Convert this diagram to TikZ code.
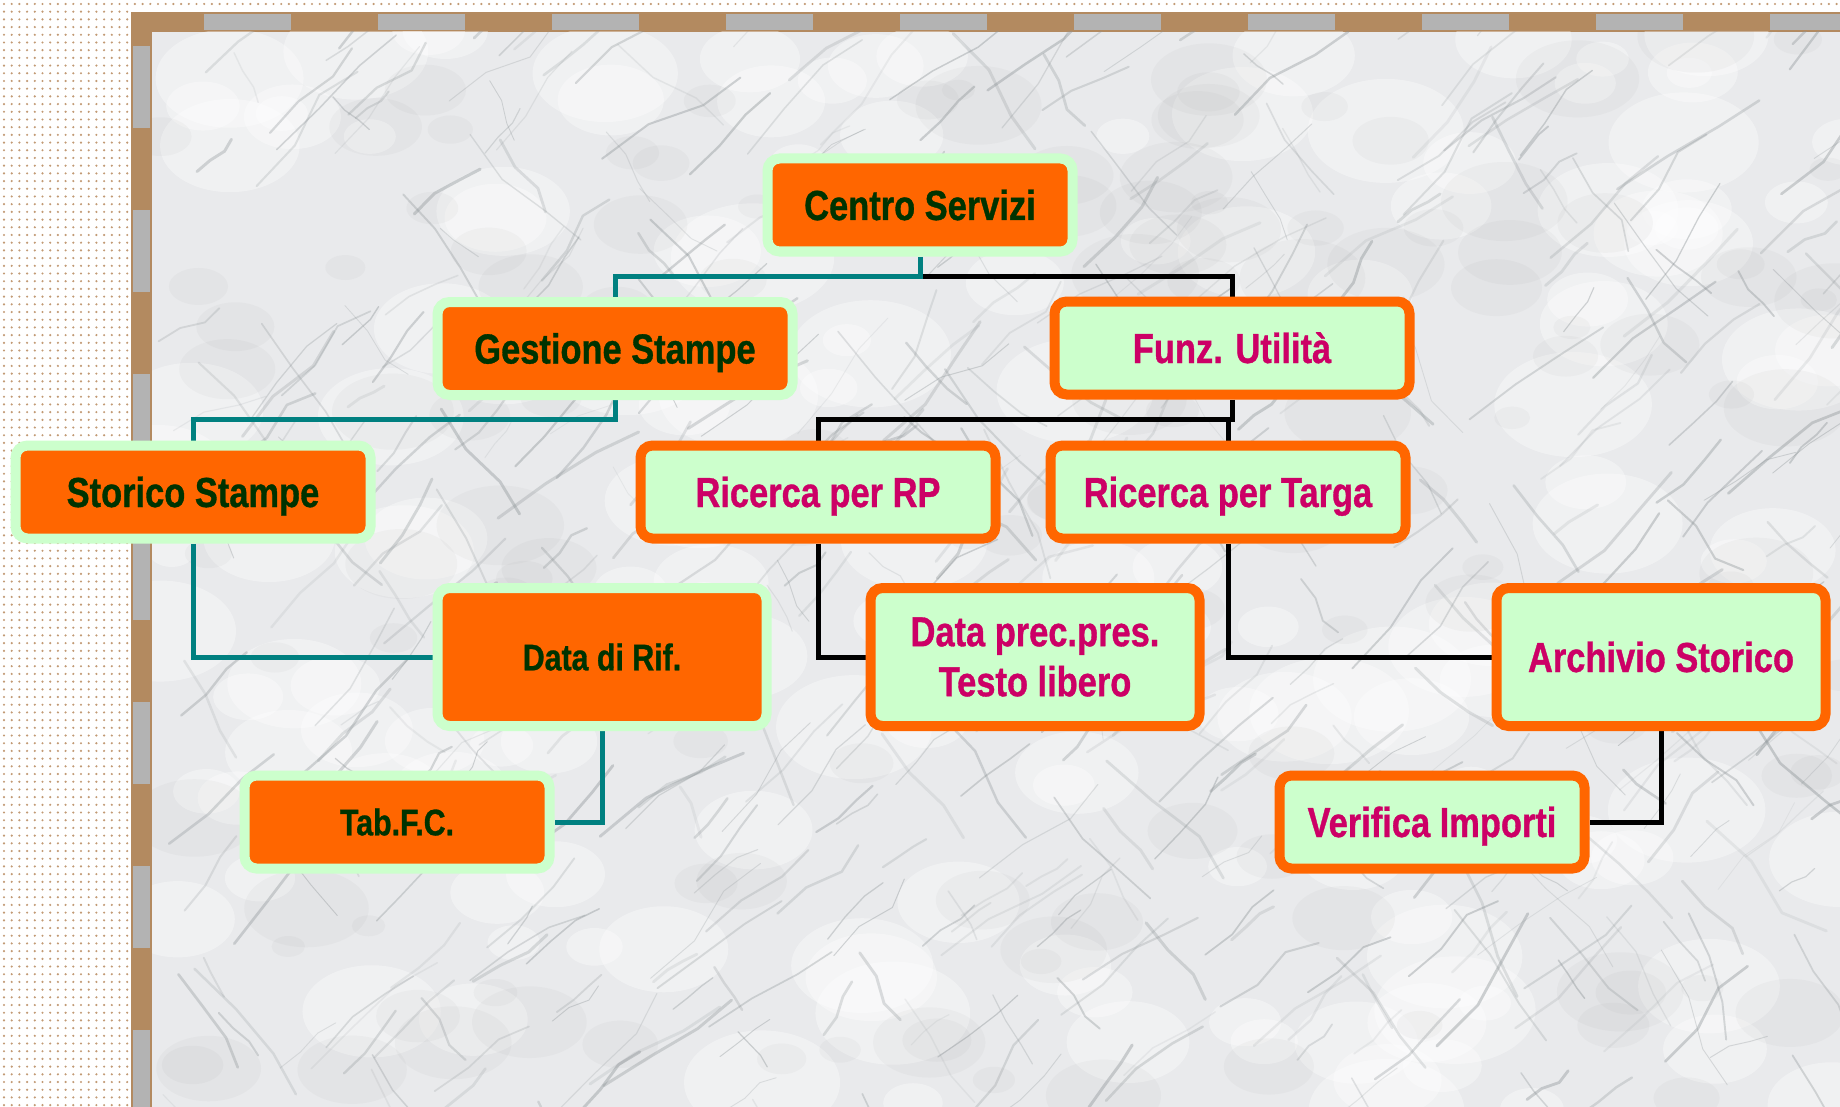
\documentclass[tikz,border=0pt]{standalone}
\usepackage{fontspec}
\newfontfamily\narrow[FakeStretch=0.82, BoldFeatures={FakeBold=0.8}]{Liberation Sans}
\usetikzlibrary{backgrounds}
\pgfdeclarelayer{back}
\pgfsetlayers{back,background,main}
\definecolor{orng}{HTML}{FF6600}
\definecolor{lgreen}{HTML}{CCFFCC}
\definecolor{dgreen}{HTML}{003300}
\definecolor{magn}{HTML}{CC0066}
\definecolor{tealc}{HTML}{008080}
\definecolor{frametan}{HTML}{B38A60}
\definecolor{framegray}{HTML}{B3B3B3}
\definecolor{marble}{HTML}{E9EAEC}
\definecolor{vein}{HTML}{8E9598}
\definecolor{dotc}{HTML}{C29A74}
\tikzset{
  boxbase/.style={line width=5pt, rounded corners=6pt, inner sep=0pt, align=center,
    font=\narrow\bfseries\fontsize{21}{25}\selectfont},
  boxA/.style={boxbase, draw=lgreen, fill=orng, text=dgreen},
  boxB/.style={boxbase, draw=orng, fill=lgreen, text=magn},
  one/.style={text height=15pt, text depth=0pt},
  onesmall/.style={text height=13.3pt, text depth=0pt},
  sm/.style={minimum width=152.5pt, minimum height=46.5pt},
  wd/.style={minimum width=177.5pt, minimum height=46.5pt},
  tl/.style={minimum width=164.5pt, minimum height=69pt},
  smallfont/.style={font=\narrow\bfseries\fontsize{18.5}{22}\selectfont},
  tline/.style={draw=tealc, line width=2.5pt},
  bline/.style={draw=black, line width=2.5pt},
  veinline/.style={draw=vein, line cap=round, line join=round}
}
\begin{document}
\begin{tikzpicture}[x=0.5pt,y=-0.5pt]
\useasboundingbox (0,0) rectangle (1840,1107);
\begin{pgfonlayer}{back}
  % dotted paper
  \fill[white] (0,0) rectangle (1840,1107);
  \foreach \yy in {0,...,143}{
    \foreach \xx in {0,...,16}{
      \fill[dotc] ({4+\xx*7.7},{4+\yy*7.7}) circle (1.2);
    }
  }
  \foreach \xx in {17,...,238}{
    \fill[dotc] ({4+\xx*7.7},4) circle (1.2);
  }
  % frame
  \fill[frametan] (131,12) rectangle (1840,1107);
  \foreach \k in {0,...,9}{
    \fill[framegray] ({204+\k*174},14) rectangle ({291+\k*174},30);
  }
  \foreach \k in {0,...,6}{
    \fill[framegray] (133,{46+\k*164}) rectangle (150,{128+\k*164});
  }
  % marble
  \fill[marble] (152,32) rectangle (1840,1107);
  \begin{scope}
    \clip (152,32) rectangle (1840,1107);
    \pgfmathsetseed{4242}
    \foreach \i in {1,...,160}{
      \pgfmathsetmacro\xa{150+rnd*1700}
      \pgfmathsetmacro\ya{30+rnd*1090}
      \pgfmathsetmacro\rr{15+rnd*40}
      \fill[white, opacity=0.35] (\xa,\ya) ellipse ({\rr*1.5} and \rr);
    }
    \foreach \i in {1,...,140}{
      \pgfmathsetmacro\xa{150+rnd*1700}
      \pgfmathsetmacro\ya{30+rnd*1090}
      \pgfmathsetmacro\rr{10+rnd*30}
      \fill[gray, opacity=0.05] (\xa,\ya) ellipse ({\rr*1.6} and \rr);
    }
    \foreach \i in {1,...,520}{
      \pgfmathsetmacro\xa{150+rnd*1700}
      \pgfmathsetmacro\ya{30+rnd*1090}
      \pgfmathsetmacro\len{15+rnd*45}
      \pgfmathsetmacro\ang{ifthenelse(rnd<0.7, 30+rnd*25, -40-rnd*25)}
      \pgfmathsetmacro\lw{0.4+rnd*1.1}
      \pgfmathsetmacro\op{0.12+rnd*0.3}
      \pgfmathsetmacro\da{rand*20}
      \pgfmathsetmacro\db{rand*20}
      \draw[veinline, line width=\lw pt, opacity=\op] (\xa,\ya)
        -- ++({\len*cos(\ang)},{-\len*sin(\ang)})
        -- ++({\len*cos(\ang+\da)},{-\len*sin(\ang+\da)})
        -- ++({0.8*\len*cos(\ang+\db)},{-0.8*\len*sin(\ang+\db)});
    }
  \end{scope}
\end{pgfonlayer}

% nodes
\node[boxA, sm, one] (centro) at (920,205) {Centro Servizi};
\node[boxA, wd, one] (gest) at (615,348.5) {Gestione Stampe};
\node[boxB, wd, one] (funz) at (1232,348) {Funz. Utilità};
\node[boxA, wd, one] (stor) at (193,492) {Storico Stampe};
\node[boxB, wd, one] (rp) at (818,492) {Ricerca per RP};
\node[boxB, wd, one] (targa) at (1228,492) {Ricerca per Targa};
\node[boxA, tl, smallfont, onesmall] (rif) at (602,657) {Data di Rif.};
\node[boxB, tl] (prec) at (1035,657) {Data prec.pres.\\Testo libero};
\node[boxB, tl, one] (arch) at (1661,657) {Archivio Storico};
\node[boxA, sm, smallfont, onesmall] (tab) at (397,822) {Tab.F.C.};
\node[boxB, sm, one] (verif) at (1432,822) {Verifica Importi};

\coordinate (j1) at (920,276);
\coordinate (j2) at (615,419);
\coordinate (j3) at (1232,419);

\begin{pgfonlayer}{background}
  \draw[bline] (j1) -| (funz.north);
  \draw[tline] (centro.south) -- (j1) -| (gest.north);
  \draw[tline] (gest.south) -- (j2) -| (stor.north);
  \draw[bline] (funz.south) -- (j3) -| (rp.north);
  \draw[bline] (j3) -| (targa.north);
  \draw[tline] (stor.south) |- (rif.west);
  \draw[tline] (rif.south) |- (tab.east);
  \draw[bline] (rp.south) |- (prec.west);
  \draw[bline] (targa.south) |- (arch.west);
  \draw[bline] (arch.south) |- (verif.east);
\end{pgfonlayer}
\end{tikzpicture}
\end{document}
